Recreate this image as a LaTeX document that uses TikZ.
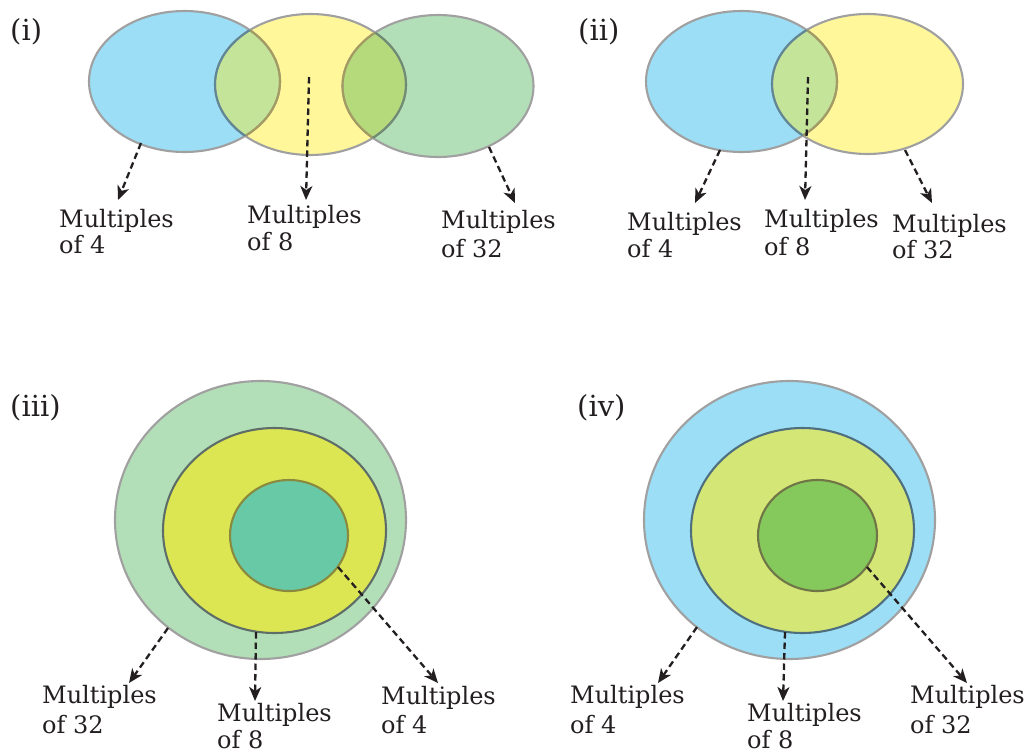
\documentclass[tikz,border=0pt]{standalone}
\usepackage{fontspec}
\setmainfont{DejaVu Serif}
\usetikzlibrary{arrows.meta}
\definecolor{cblue}{HTML}{9BDEF6}
\definecolor{cyellow}{HTML}{FFF799}
\definecolor{cgreen}{HTML}{B3DFB8}
\definecolor{cby}{HTML}{C4E49A}
\definecolor{cyg}{HTML}{B4DA7B}
\definecolor{cgrey}{HTML}{A0A0A0}
\definecolor{ob}{HTML}{5F8796}
\definecolor{oy}{HTML}{A39B60}
\definecolor{og}{HTML}{6F8C73}
\definecolor{midiii}{HTML}{DCE653}
\definecolor{midiiiol}{HTML}{5E6D68}
\definecolor{inniii}{HTML}{68C9A6}
\definecolor{inniiiol}{HTML}{8A8A3E}
\definecolor{midiv}{HTML}{D3E676}
\definecolor{midivol}{HTML}{4F6E7E}
\definecolor{inniv}{HTML}{85C85B}
\definecolor{innivol}{HTML}{6F7547}
\definecolor{ink}{HTML}{231F20}
\newcommand\twoline[3]{\vtop{\baselineskip=#1\hbox{#2}\hbox{#3}}}
\begin{document}
\begin{tikzpicture}[x=1pt,y=-1pt,
  ol/.style={line width=2.1pt},
  arr/.style={line width=2.3pt, dash pattern=on 6.5pt off 4pt, ink,
    -{Stealth[length=14pt,width=12pt,inset=4pt]}},
  lbl/.style={inner sep=0pt, text=ink, anchor=base west,
    font=\fontsize{24}{26}\selectfont},
  pan/.style={inner sep=0pt, text=ink, anchor=base west,
    font=\fontsize{29}{32}\selectfont},
  Ai/.style={insert path={(184.5,81.5) ellipse [x radius=95.5pt, y radius=70.5pt]}},
  Bi/.style={insert path={(310.5,84.5) ellipse [x radius=95.5pt, y radius=70.5pt]}},
  Ci/.style={insert path={(438,86) ellipse [x radius=95.5pt, y radius=71pt]}},
  Aii/.style={insert path={(741.5,81.5) ellipse [x radius=95.5pt, y radius=70.5pt]}},
  Bii/.style={insert path={(867.5,84) ellipse [x radius=95.5pt, y radius=70pt]}},
]
\useasboundingbox (0,0) rectangle (1025,753);

% ---------- panel (i)
\node[pan] (pi) at (10,40) {(i)};
\fill[cblue, Ai]; \fill[cyellow, Bi]; \fill[cgreen, Ci];
\begin{scope}\clip[Ai]; \fill[cby, Bi];\end{scope}
\begin{scope}\clip[Bi]; \fill[cyg, Ci];\end{scope}
\draw[ol, cgrey, Ai]; \draw[ol, cgrey, Bi]; \draw[ol, cgrey, Ci];
\begin{scope}\clip[Bi]; \draw[ol, oy, Ai]; \draw[ol, oy, Ci];\end{scope}
\begin{scope}\clip[Ai]; \draw[ol, ob, Bi];\end{scope}
\begin{scope}\clip[Ci]; \draw[ol, og, Bi];\end{scope}
\coordinate (a1s) at (141,143); \coordinate (a1e) at (118,200);
\coordinate (a2s) at (309,77);  \coordinate (a2e) at (306,200);
\coordinate (a3s) at (489,147); \coordinate (a3e) at (515,203);
\draw[arr] (a1s) -- (a1e);
\draw[arr] (a2s) -- (a2e);
\draw[arr] (a3s) -- (a3e);
\node[lbl] (la1) at (59,227) {\twoline{26pt}{Multiples}{of 4}};
\node[lbl] (la2) at (247,223) {\twoline{27pt}{Multiples}{of 8}};
\node[lbl] (la3) at (441,228) {\twoline{29pt}{Multiples}{of 32}};

% ---------- panel (ii)
\node[pan] (pii) at (578,40) {(ii)};
\fill[cblue, Aii]; \fill[cyellow, Bii];
\begin{scope}\clip[Aii]; \fill[cby, Bii];\end{scope}
\draw[ol, cgrey, Aii]; \draw[ol, cgrey, Bii];
\begin{scope}\clip[Bii]; \draw[ol, oy, Aii];\end{scope}
\begin{scope}\clip[Aii]; \draw[ol, ob, Bii];\end{scope}
\coordinate (b1s) at (720,150); \coordinate (b1e) at (695,203);
\coordinate (b2s) at (808,77);  \coordinate (b2e) at (805,200);
\coordinate (b3s) at (905,150); \coordinate (b3e) at (932,203);
\draw[arr] (b1s) -- (b1e);
\draw[arr] (b2s) -- (b2e);
\draw[arr] (b3s) -- (b3e);
\node[lbl] (lb1) at (627,230) {\twoline{27pt}{Multiples}{of 4}};
\node[lbl] (lb2) at (764,227) {\twoline{28pt}{Multiples}{of 8}};
\node[lbl] (lb3) at (892,232) {\twoline{26pt}{Multiples}{of 32}};

% ---------- panel (iii)
\node[pan] (piii) at (10,416) {(iii)};
\filldraw[ol, fill=cgreen, draw=cgrey] (260.5,520) ellipse [x radius=145.5pt, y radius=139pt];
\filldraw[ol, fill=midiii, draw=midiiiol] (274.5,530.5) ellipse [x radius=111.5pt, y radius=102.5pt];
\filldraw[ol, fill=inniii, draw=inniiiol] (289,535.5) ellipse [x radius=59pt, y radius=55.5pt];
\coordinate (c1s) at (168,628); \coordinate (c1e) at (129,683);
\coordinate (c2s) at (256,632); \coordinate (c2e) at (255,701);
\coordinate (c3s) at (338,567); \coordinate (c3e) at (438,683);
\draw[arr] (c1s) -- (c1e);
\draw[arr] (c2s) -- (c2e);
\draw[arr] (c3s) -- (c3e);
\node[lbl] (lc1) at (42,703) {\twoline{30pt}{Multiples}{of 32}};
\node[lbl] (lc2) at (217,721) {\twoline{27pt}{Multiples}{of 8}};
\node[lbl] (lc3) at (381,704) {\twoline{29pt}{Multiples}{of 4}};

% ---------- panel (iv)
\node[pan] (piv) at (577,416) {(iv)};
\filldraw[ol, fill=cblue, draw=cgrey] (789.5,520) ellipse [x radius=145.5pt, y radius=139pt];
\filldraw[ol, fill=midiv, draw=midivol] (802.5,530.5) ellipse [x radius=111.5pt, y radius=102.5pt];
\filldraw[ol, fill=inniv, draw=innivol] (817.5,535.5) ellipse [x radius=59.5pt, y radius=55.5pt];
\coordinate (d1s) at (697,627); \coordinate (d1e) at (658,683);
\coordinate (d2s) at (785,632); \coordinate (d2e) at (783,701);
\coordinate (d3s) at (867,567); \coordinate (d3e) at (967,683);
\draw[arr] (d1s) -- (d1e);
\draw[arr] (d2s) -- (d2e);
\draw[arr] (d3s) -- (d3e);
\node[lbl] (ld1) at (570,703) {\twoline{30pt}{Multiples}{of 4}};
\node[lbl] (ld2) at (747,721) {\twoline{27pt}{Multiples}{of 8}};
\node[lbl] (ld3) at (910,703) {\twoline{30pt}{Multiples}{of 32}};
\end{tikzpicture}
\end{document}
